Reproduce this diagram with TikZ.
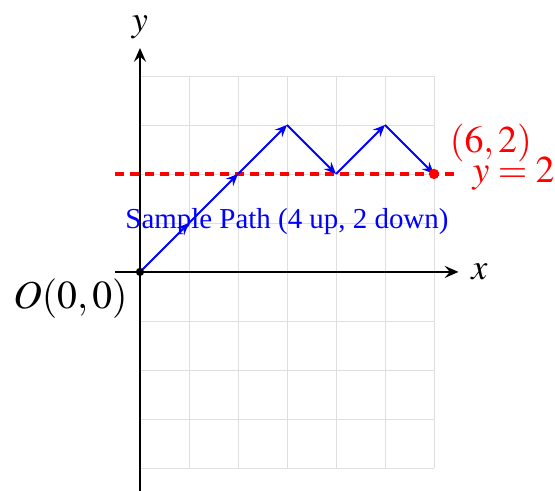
\documentclass[tikz,border=0pt]{standalone}
\usepackage{mathptmx}
\usepackage{fontspec}
\setmainfont{Liberation Serif}
\usetikzlibrary{arrows.meta,positioning}
\begin{document}
\begin{tikzpicture}[x=1cm,y=1cm,
  gridline/.style={gray!25,line width=0.5pt},
  axis/.style={black,line width=1.1pt,-{Stealth[length=8pt,width=7pt,inset=3pt]}},
  pathline/.style={blue,line width=1.1pt,-{Stealth[length=7pt,width=6pt,inset=2.5pt]}},
  refline/.style={red,line width=2.8pt,dash pattern=on 5pt off 3.7pt},
  lbl/.style={font=\fontsize{21}{25}\selectfont},
]
\useasboundingbox (-2.857,-4.47) rectangle (8.47,5.55);
\draw[gridline] (0,-4) grid (6,4);
% axes
\coordinate (xs) at (-0.5,0);
\coordinate (xe) at (6.5,0);
\coordinate (ys) at (0,-4.6);
\coordinate (ye) at (0,4.57);
\draw[axis] (xs) -- (xe);
\draw[axis] (ys) -- (ye);
\node[lbl,right=4pt] (xl) at (xe) {$x$};
\node[lbl,above=2pt] (yl) at (ye) {$y$};
% reference line y=2
\coordinate (rs) at (-0.5,2);
\coordinate (re) at (6.5,2);
\draw[refline] (rs) -- (re);
\node[font=\fontsize{22}{26}\selectfont,red,right=6pt,inner sep=2pt] (rl) at (re) {$y=2$};
% path
\coordinate (P0) at (0,0);
\coordinate (P1) at (1,1);
\coordinate (P2) at (2,2);
\coordinate (P3) at (3,3);
\coordinate (P4) at (4,2);
\coordinate (P5) at (5,3);
\coordinate (P6) at (6,2);
\draw[pathline] (P0) -- (P1);
\draw[pathline] (P1) -- (P2);
\draw[pathline] (P2) -- (P3);
\draw[pathline] (P3) -- (P4);
\draw[pathline] (P4) -- (P5);
\draw[pathline] (P5) -- (P6);
\fill[black] (P0) circle (2.4pt);
\fill[red] (P6) circle (3pt);
\node[font=\fontsize{23}{27}\selectfont,below left=2pt and 5pt,inner sep=2pt] (ol) at (P0) {$O(0,0)$};
\node[font=\fontsize{22}{26}\selectfont,red,above right=5pt and 7pt,inner sep=2pt] (el) at (P6) {$(6,2)$};
\node[font=\fontsize{16.8}{20}\selectfont,blue] (sl) at (3,1.02) {Sample Path (4 up, 2 down)};
\end{tikzpicture}
\end{document}
